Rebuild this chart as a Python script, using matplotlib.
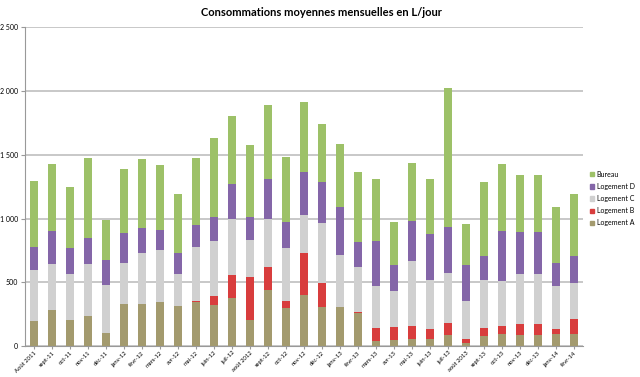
import matplotlib
matplotlib.use("Agg")
import matplotlib.pyplot as plt
from matplotlib.ticker import FuncFormatter
from matplotlib.patches import Patch
import numpy as np

months = ['Août 2011', 'sept-11', 'oct-11', 'nov-11', 'déc-11', 'janv-12', 'févr-12',
          'mars-12', 'avr-12', 'mai-12', 'juin-12', 'juil-12', 'août 2012', 'sept-12',
          'oct-12', 'nov-12', 'déc-12', 'janv-13', 'févr-13', 'mars-13', 'avr-13',
          'mai-13', 'juin-13', 'juil-13', 'août 2013', 'sept-13', 'oct-13', 'nov-13',
          'déc-13', 'janv-14', 'févr-14']

logement_a = [194, 280, 202, 236, 105, 332, 330, 343, 314, 346, 319, 377, 204, 437, 298, 400,
              309, 304, 262, 39, 44, 52, 52, 89, 24, 79, 97, 84, 84, 94, 97]
logement_b = [0, 0, 0, 0, 0, 0, 0, 0, 0, 10, 71, 183, 335, 181, 55, 330,
              188, 5, 8, 105, 103, 105, 79, 92, 28, 62, 60, 86, 86, 37, 115]
logement_c = [400, 367, 366, 411, 371, 323, 403, 414, 249, 422, 435, 440, 291, 377, 414, 301,
              464, 408, 348, 325, 282, 508, 385, 395, 299, 375, 353, 393, 393, 343, 280]
logement_d = [184, 253, 202, 204, 202, 235, 196, 151, 167, 170, 188, 270, 183, 311, 209, 333,
              327, 375, 194, 356, 210, 314, 361, 359, 283, 188, 393, 335, 335, 175, 215]
bureau = [518, 524, 479, 620, 309, 495, 537, 508, 461, 526, 618, 531, 563, 584, 506, 547,
          453, 489, 552, 487, 332, 453, 429, 1091, 324, 581, 524, 440, 440, 445, 489]

series = [("Logement A", logement_a, "#a39a6e"),
          ("Logement B", logement_b, "#d83d3d"),
          ("Logement C", logement_c, "#d0d0d0"),
          ("Logement D", logement_d, "#8466a8"),
          ("Bureau", bureau, "#9dc168")]

plt.rcParams['font.family'] = ['Lato', 'DejaVu Sans']

fig = plt.figure(figsize=(6.4, 3.77), dpi=100)
ax = fig.add_axes([0.039, 0.082, 0.872, 0.846])

x = np.arange(len(months))
bottom = np.zeros(len(months))
for name, vals, color in series:
    ax.bar(x, vals, width=0.4, bottom=bottom, color=color, zorder=3)
    bottom += np.array(vals)

ax.set_xlim(-0.5, len(months) - 0.5)
ax.set_ylim(0, 2500)
ax.set_yticks(range(0, 2501, 500))
ax.yaxis.set_major_formatter(FuncFormatter(lambda v, p: f"{int(v):,}".replace(",", " ")))
ax.yaxis.grid(True, color="#c4c4c4", lw=1.3, zorder=0)
ax.set_xticks(x)
ax.set_xticklabels(months, rotation=45, ha="right", rotation_mode="anchor", fontsize=4.2)
ax.tick_params(axis="y", labelsize=5, length=3, color="#999999", pad=2)
ax.tick_params(axis="x", length=2, color="#999999", pad=1)

for s in ["top", "right"]:
    ax.spines[s].set_visible(False)
ax.spines["left"].set_color("#999999")
ax.spines["bottom"].set_color("#999999")

fig.text(0.502, 0.968, "Consommations moyennes mensuelles en L/jour",
         ha="center", va="center", fontsize=8, fontweight="bold")

handles = [Patch(color=c, label=n) for n, v, c in reversed(series)]
fig.legend(handles=handles, loc="upper left", bbox_to_anchor=(0.918, 0.555),
           frameon=False, fontsize=5, handlelength=0.6, handleheight=0.6,
           handletextpad=0.3, labelspacing=0.75, borderaxespad=0)

fig.savefig("out.png", dpi=100)
